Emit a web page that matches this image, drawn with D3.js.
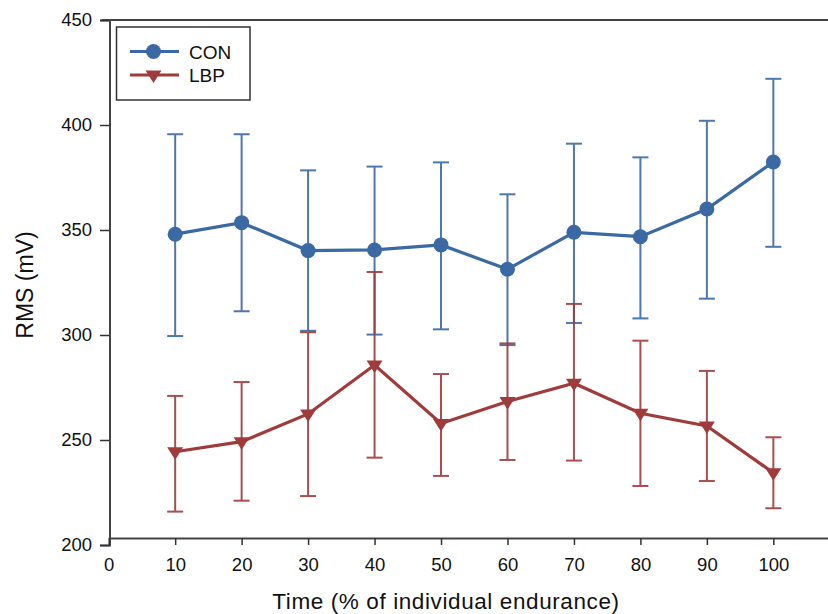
<!DOCTYPE html>
<html>
<head>
  <meta charset="utf-8">
  <title>RMS over time</title>
  <script src="https://d3js.org/d3.v7.min.js"></script>
  <style>
  body { margin: 0; background: #fff; }
  svg text { font-family: "Liberation Sans", Arial, sans-serif; fill: #111; }
</style>
</head>
<body>
  <div id="chart"></div>
  <script>
// time points (% of individual endurance)
var timePoints = [10, 20, 30, 40, 50, 60, 70, 80, 90, 100];

// CON group: mean, upper and lower error bar ends
var conMean  = [348, 353.5, 340.2, 340.5, 342.9, 331.3, 348.9, 346.8, 360, 382.4];
var conUpper = [395.6, 395.6, 378.4, 380.2, 382.2, 367, 391.1, 384.6, 402, 422];
var conLower = [299.5, 311.3, 302, 300.2, 302.7, 295.2, 305.7, 307.9, 317.3, 342];

// LBP group
var lbpMean  = [244.4, 249.2, 262.4, 285.7, 257.9, 268.3, 277, 262.7, 256.7, 234.4];
var lbpUpper = [271, 277.6, 301.3, 330, 281.4, 296, 314.8, 297.3, 282.9, 251.3];
var lbpLower = [215.9, 221.1, 223.3, 241.6, 232.9, 240.5, 240.2, 228.1, 230.5, 217.5];

var xTicks = [0, 10, 20, 30, 40, 50, 60, 70, 80, 90, 100];
var yTicks = [200, 250, 300, 350, 400, 450];

var width = 828;
var height = 614;

var svg = d3.select("#chart")
  .append("svg")
  .attr("width", width)
  .attr("height", height);

var x = d3.scaleLinear().domain([0, 110]).range([108.7, 839.8]);
var y = d3.scaleLinear().domain([200, 450]).range([545, 20]);

// frame: top line and left axis
svg.append("line")
  .attr("x1", 102).attr("x2", width)
  .attr("y1", y(450)).attr("y2", y(450))
  .attr("stroke", "#444").attr("stroke-width", 2);

var yAxis = svg.append("g")
  .attr("transform", "translate(109.5,0)")
  .call(d3.axisLeft(y).tickValues(yTicks).tickSize(9.5).tickPadding(8));
yAxis.select(".domain").attr("stroke", "#444").attr("stroke-width", 2);
yAxis.selectAll(".tick line").attr("stroke", "#333").attr("stroke-width", 1.5);
yAxis.selectAll(".tick text").attr("font-size", "18.5px").attr("fill", "#111");

// x axis sits a little above the 200 line
var xAxis = svg.append("g")
  .attr("transform", "translate(0,538)")
  .call(d3.axisBottom(x).tickValues(xTicks).tickSize(7).tickPadding(13).tickSizeOuter(0));
xAxis.select(".domain").attr("stroke", "#444").attr("stroke-width", 2);
xAxis.selectAll(".tick line").attr("stroke", "#333").attr("stroke-width", 1.5);
xAxis.selectAll(".tick text").attr("font-size", "18.5px").attr("fill", "#111");

svg.append("text")
  .attr("x", 446)
  .attr("y", 609)
  .attr("text-anchor", "middle")
  .attr("font-size", "22.5px")
  .attr("letter-spacing", "0.6px")
  .text("Time (% of individual endurance)");

svg.append("text")
  .attr("transform", "translate(33,285) rotate(-90)")
  .attr("text-anchor", "middle")
  .attr("font-size", "23px")
  .text("RMS (mV)");

var series = [
  { name: "CON", mean: conMean, upper: conUpper, lower: conLower, color: "#3b69a3", shape: "circle" },
  { name: "LBP", mean: lbpMean, upper: lbpUpper, lower: lbpLower, color: "#a03b3b", shape: "triangle" }
];

var capHalf = 8;
var tri = "M-8,-4.5 L8,-4.5 L0,8 Z";

function drawMarker(g, s) {
  if (s.shape == "circle") {
    g.append("circle").attr("r", 7.5).attr("fill", s.color);
  } else {
    g.append("path").attr("d", tri).attr("fill", s.color);
  }
}

series.forEach(function(s) {
  var pts = timePoints.map(function(t, i) {
    return { t: t, m: s.mean[i], hi: s.upper[i], lo: s.lower[i] };
  });

  var eb = svg.append("g").attr("stroke", s.color).attr("stroke-width", 2).attr("opacity", 0.9);
  eb.selectAll(".stem").data(pts).enter().append("line")
    .attr("x1", function(d) { return x(d.t); })
    .attr("x2", function(d) { return x(d.t); })
    .attr("y1", function(d) { return y(d.hi); })
    .attr("y2", function(d) { return y(d.lo); });
  eb.selectAll(".capHi").data(pts).enter().append("line")
    .attr("x1", function(d) { return x(d.t) - capHalf; })
    .attr("x2", function(d) { return x(d.t) + capHalf; })
    .attr("y1", function(d) { return y(d.hi); })
    .attr("y2", function(d) { return y(d.hi); });
  eb.selectAll(".capLo").data(pts).enter().append("line")
    .attr("x1", function(d) { return x(d.t) - capHalf; })
    .attr("x2", function(d) { return x(d.t) + capHalf; })
    .attr("y1", function(d) { return y(d.lo); })
    .attr("y2", function(d) { return y(d.lo); });

  var line = d3.line()
    .x(function(d) { return x(d.t); })
    .y(function(d) { return y(d.m); });

  svg.append("path")
    .datum(pts)
    .attr("d", line)
    .attr("fill", "none")
    .attr("stroke", s.color)
    .attr("stroke-width", 3.2);

  pts.forEach(function(d) {
    var g = svg.append("g").attr("transform", "translate(" + x(d.t) + "," + y(d.m) + ")");
    drawMarker(g, s);
  });
});

// legend
var legend = svg.append("g");
legend.append("rect")
  .attr("x", 116.5).attr("y", 27)
  .attr("width", 133.5).attr("height", 73)
  .attr("fill", "#fff")
  .attr("stroke", "#333").attr("stroke-width", 1.5);

series.forEach(function(s, i) {
  var ly = 51.5 + i * 23.5;
  legend.append("line")
    .attr("x1", 130).attr("x2", 179)
    .attr("y1", ly).attr("y2", ly)
    .attr("stroke", s.color).attr("stroke-width", 3);
  var g = legend.append("g").attr("transform", "translate(153.5," + ly + ")");
  drawMarker(g, s);
  legend.append("text")
    .attr("x", 189).attr("y", ly + 7)
    .attr("font-size", "19px")
    .text(s.name);
});
</script>
</body>
</html>
